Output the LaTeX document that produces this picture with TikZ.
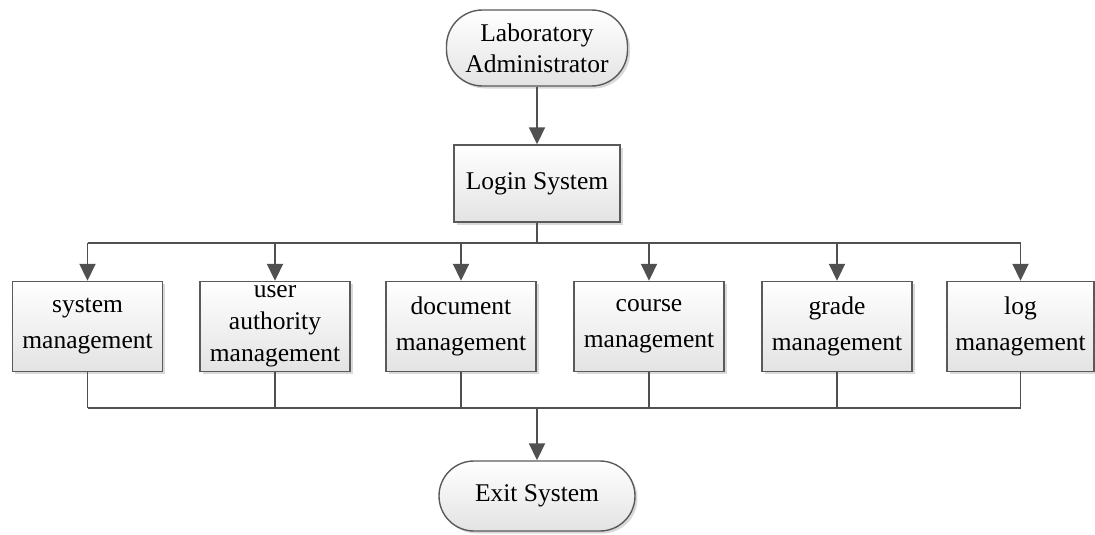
\documentclass[tikz,border=0pt]{standalone}
\usepackage{fontspec}
\setmainfont{Liberation Serif}
\usetikzlibrary{arrows.meta,shadows}
\definecolor{linec}{RGB}{80,80,80}
\definecolor{boxline}{RGB}{90,90,90}
\begin{document}
\begin{tikzpicture}[x=1pt,y=-1pt,
  base/.style={draw=boxline, line width=1.4pt, top color=white, bottom color=gray!22,
    drop shadow={opacity=0.3, shadow xshift=2.5pt, shadow yshift=-2.5pt},
    align=center, inner sep=0pt, text=black,
    font=\fontsize{25.5}{31}\selectfont},
  box/.style={base, minimum width=150pt, minimum height=90pt},
  term/.style={base, rounded corners=36pt},
  conn/.style={draw=linec, line width=1.9pt},
  arr/.style={conn, -{Triangle[length=17pt,width=16pt]}, fill=linec}]
\useasboundingbox (0,0) rectangle (1095,535);
\node[term, minimum width=181pt, minimum height=76pt] (admin) at (537,48) {Laboratory\\Administrator};
\node[base, minimum width=166pt, minimum height=77pt] (login) at (537,183.5) {Login System};
\node[box] (sys) at (87.5,326.5) {system\\[5pt]management};
\node[box] (user) at (275,326.5) {user\\[1pt]authority\\[1pt]management};
\node[box] (doc) at (461,326.5) {document\\[5pt]management};
\node[box] (course) at (649,326.5) {course\\[5pt]management};
\node[box] (grade) at (837,326.5) {grade\\[5pt]management};
\node[box, minimum width=147pt] (log) at (1020.5,326.5) {log\\[5pt]management};
\node[term, minimum width=196pt, minimum height=70pt, rounded corners=35pt] (exit) at (537,496) {Exit System};
\coordinate (bt) at (537,243);
\coordinate (bb) at (537,408);
\draw[arr] (admin) -- (login);
\draw[conn] (login.south) -- (bt);
\draw[conn] (sys.north |- bt) -- (log.north |- bt);
\foreach \n in {sys,user,doc,course,grade,log}{
  \draw[arr] (\n.north |- bt) -- (\n.north);
  \draw[conn] (\n.south) -- (\n.south |- bb);
}
\draw[conn] (sys.south |- bb) -- (log.south |- bb);
\draw[arr] (bb) -- (exit);
\end{tikzpicture}
\end{document}
